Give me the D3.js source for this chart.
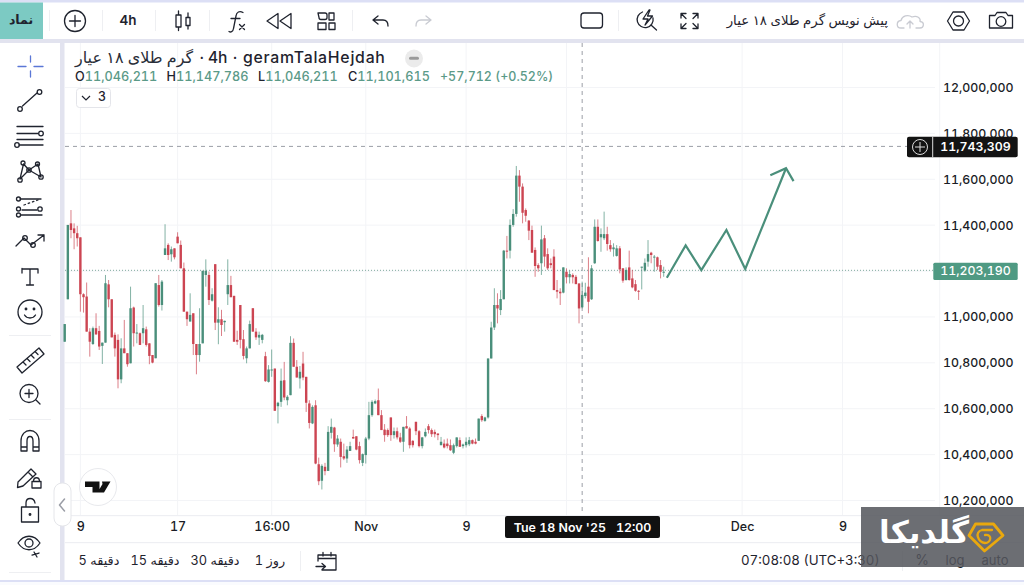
<!DOCTYPE html>
<html><head><meta charset="utf-8">
<style>html,body{margin:0;padding:0;background:#fff;overflow:hidden}svg{display:block}
text{font-family:Inter,"DejaVu Sans",sans-serif;font-variant-numeric:tabular-nums;font-feature-settings:"tnum" 1}</style>
<script src="https://cdn.jsdelivr.net/npm/d3@7"></script></head><body>
<svg id="c" width="1024" height="585"></svg>
<script>
// Prices in thousands
const opens=[10892,11077,11408,11386,11365,11347,11099,11089,10936,10882,10951,10939,10874,10888,11142,11077,
10922,10900,10728,10863,10842,10798,11041,10929,10929,10929,10946,10885,10834,10820,11139,11052,
11270,11314,11273,11299,11350,11314,11212,11023,10980,11016,10882,10834,10885,11183,11183,11071,
11230,10975,10990,10977,11099,11139,11092,10900,11052,10903,10820,10863,11038,10936,10910,10900,
10829,10717,10768,10775,10611,10630,10724,10637,10659,10887,10783,10732,10797,10739,10623,10536,
10615,10358,10286,10347,10329,10495,10518,10444,10456,10393,10383,10416,10477,10480,10437,10364,
10398,10470,10572,10623,10637,10572,10509,10507,10562,10485,10502,10475,10456,10524,10514,10460,
10543,10502,10437,10480,10524,10507,10499,10492,10441,10448,10448,10441,10408,10437,10463,10437,
10441,10445,10463,10456,10460,10568,10547,10562,10819,10954,11052,11030,11077,11289,11289,11401,
11449,11616,11568,11466,11420,11379,11292,11226,11234,11343,11274,11234,11263,11117,11110,11106,
11197,11173,11183,11175,11146,11042,11091,11132,11077,11234,11393,11347,11343,11361,11313,11295,
11266,11299,11212,11161,11216,11168,11143,11114,11216,11202,11241,11280,11260,11260,11226,11193];
const highs=[10969,11401,11466,11408,11397,11347,11103,11150,10951,10958,11016,10961,10888,11183,11161,11077,
10932,10924,10907,10987,10842,11132,11045,10969,10932,11052,10958,10885,10834,11147,11183,11161,
11404,11321,11307,11299,11369,11333,11237,11023,11103,11016,10882,11038,11201,11251,11198,11125,
11230,11042,11031,10984,11251,11179,11092,10940,11052,10943,10871,10984,11038,10951,10936,10926,
10848,10790,10858,10775,10630,10775,10804,10659,10916,10906,10812,10786,10848,10739,10637,10615,
10637,10387,10358,10364,10524,10557,10521,10485,10470,10448,10437,10456,10509,10480,10456,10405,
10477,10630,10637,10640,10688,10594,10533,10514,10562,10518,10518,10495,10521,10568,10521,10463,
10543,10507,10477,10514,10533,10514,10509,10492,10477,10466,10470,10466,10448,10475,10475,10448,
10475,10477,10466,10470,10557,10576,10565,10819,10979,11125,11103,11117,11292,11353,11425,11470,
11658,11640,11582,11473,11422,11398,11303,11234,11398,11357,11299,11255,11295,11161,11125,11216,
11212,11202,11190,11183,11146,11154,11149,11260,11226,11425,11425,11386,11459,11393,11335,11321,
11313,11309,11212,11216,11289,11205,11161,11117,11219,11255,11335,11284,11270,11263,11248,11219];
const lows=[10892,11077,11343,11295,11307,11023,11019,10936,10827,10878,10922,10856,10795,10888,11042,10911,
10827,10689,10711,10842,10783,10798,10871,10885,10878,10885,10871,10794,10798,10820,11045,11028,
11270,11248,11241,11251,11321,11212,11023,10961,10980,10834,10750,10805,10885,11132,11052,11067,
10943,10881,10917,10936,11052,11086,10892,10878,10863,10815,10798,10863,10936,10900,10878,10885,
10717,10714,10739,10591,10536,10608,10637,10615,10659,10783,10736,10688,10724,10586,10514,10533,
10358,10267,10248,10310,10329,10470,10412,10434,10344,10376,10364,10416,10470,10419,10361,10350,
10361,10463,10565,10620,10572,10507,10456,10477,10460,10470,10466,10451,10412,10514,10427,10431,
10485,10431,10427,10475,10492,10477,10475,10463,10441,10427,10427,10416,10402,10431,10434,10427,
10431,10437,10445,10445,10460,10543,10543,10557,10819,10943,10972,11008,11077,11255,11255,11393,
11437,11502,11408,11415,11335,11280,11175,11197,11183,11219,11205,11212,11117,11081,11052,11103,
11146,11146,11146,11143,10972,11037,11081,11016,11074,11231,11328,11284,11335,11289,11284,11263,
11263,11190,11149,11158,11158,11125,11110,11074,11120,11197,11219,11234,11197,11205,11168,11175];
const closes=[10969,11401,11379,11365,11343,11099,11086,10936,10892,10951,10924,10871,10888,11147,11077,10911,
10863,10728,10863,10842,10794,11038,10929,10932,10878,10951,10878,10830,10801,11147,11052,11154,
11299,11270,11295,11260,11321,11212,11023,10990,11009,10882,10834,10882,11201,11201,11074,11099,
10975,10990,10965,10983,11139,11086,10892,10892,10900,10830,10863,10969,10936,10911,10922,10922,
10720,10771,10771,10591,10626,10722,10649,10652,10887,10783,10736,10761,10736,10626,10538,10608,
10361,10284,10351,10328,10499,10521,10445,10470,10390,10383,10422,10437,10470,10422,10376,10402,
10470,10572,10630,10633,10572,10507,10485,10485,10485,10502,10475,10456,10521,10514,10441,10441,
10502,10437,10475,10499,10507,10489,10489,10485,10456,10431,10437,10419,10441,10475,10434,10444,
10456,10463,10448,10448,10557,10550,10562,10819,10954,11052,11037,11078,11289,11286,11401,11449,
11616,11568,11454,11441,11376,11280,11222,11212,11338,11263,11212,11226,11117,11110,11103,11216,
11173,11187,11173,11143,11037,11096,11106,11066,11212,11393,11331,11361,11361,11318,11295,11303,
11299,11207,11158,11205,11161,11129,11114,11110,11219,11236,11274,11270,11263,11219,11197,11197];
const priceTicks=[10200,10400,10600,10800,11000,11200,11400,11600,11800,12000];
const hiddenPriceLabels=[11200];
const timeTickIdx=[5,36,66,96,128,160,216,248,279];
const timeTickLabels=["9","17","16:00","Nov","9","","Dec","9",""];
const drawingIdx=[192,198,203,211,217,230];
const drawingPrice=[11171,11312,11204,11379,11209,11648];
const headIdx=[225,230,232.4];
const headPrice=[11618,11648,11592];
const lastPrice=11203.19, crossPrice=11743.309, crossIdx=165;
const sym="گرم طلای ۱۸ عیار";
const symInfo=["·","4h","·","geramTalaHejdah"];
const legendParts=[["O","11,046,211"],["H","11,147,786"],["L","11,046,211"],["C","11,101,615"]];
const legendChange="+57,712 (+0.52%)";
const intervals=["5 دقیقه","15 دقیقه","30 دقیقه","1 روز"];

const UP="#4a8f7b",DN="#cc4552",INK="#1f232e",GRID="#f3f4f7",FRAME="#e2e3ef";
const svg=d3.select("#c");
const x=d3.scaleLinear().domain([0,191]).range([64.7,663.7]);
const y=d3.scaleLinear().domain([10200,12000]).range([500.5,87.5]);
const bg=svg.append("g");
const R=(g,a,b,w,h,f,o={})=>g.append("rect").attr("x",a).attr("y",b).attr("width",w).attr("height",h).attr("fill",f).attr("rx",o.r||0).attr("stroke",o.s||"none");
R(bg,0,0,1024,585,"#fff");
R(bg,0,0,1024,2.5,"#dcdff5");
R(bg,0,39,1024,4,FRAME);
R(bg,60,43,4.5,537,FRAME);
R(bg,0,580,1024,2,"#dcdff5");
R(bg,0,582,1024,3,"#fafbfe");

// grid
const grid=svg.append("g");
grid.selectAll("line.h").data(priceTicks).join("line").attr("class","h")
 .attr("x1",65).attr("x2",935).attr("y1",d=>y(d)).attr("y2",d=>y(d)).attr("stroke",GRID);
grid.selectAll("line.v").data(timeTickIdx).join("line").attr("class","v")
 .attr("x1",d=>x(d)).attr("x2",d=>x(d)).attr("y1",43).attr("y2",515).attr("stroke",GRID);

// axes
const pa=d3.axisRight(y).tickValues(priceTicks).tickSize(0).tickPadding(0).tickFormat(d=>hiddenPriceLabels.includes(d)?"":d3.format(",")(d*1000));
const pg=svg.append("g").attr("transform","translate(943,0)").call(pa);
pg.select(".domain").remove();
pg.selectAll("text").attr("font-size",12.3).attr("font-weight",500).attr("fill","#1a1d26").style("font-family","Inter");
const ta=d3.axisBottom(x).tickValues(timeTickIdx).tickSize(0).tickPadding(0).tickFormat((d,i)=>timeTickLabels[i]);
const tg=svg.append("g").attr("transform","translate(0,522)").call(ta);
tg.select(".domain").remove();
tg.selectAll("text").attr("font-size",12.5).attr("font-weight",500).attr("fill","#1a1d26").style("font-family","Inter");
R(bg,65,542,960,1.2,"#eeeff3");R(bg,65,515,960,1.2,"#eeeff3");

// price lines
svg.append("line").attr("x1",65).attr("x2",935).attr("y1",y(lastPrice)).attr("y2",y(lastPrice)).attr("stroke","#7fa89c").attr("stroke-dasharray","1 2");
svg.append("line").attr("x1",65).attr("x2",907).attr("y1",y(crossPrice)).attr("y2",y(crossPrice)).attr("stroke","#9b9ea6").attr("stroke-dasharray","4 4");
svg.append("line").attr("x1",x(crossIdx)).attr("x2",x(crossIdx)).attr("y1",43).attr("y2",515).attr("stroke","#9b9ea6").attr("stroke-dasharray","4 4");

// candles
const idx=d3.range(opens.length);
const clr=i=>closes[i]>=opens[i]?UP:DN;
const cg=svg.append("g");
cg.selectAll("line").data(idx).join("line")
 .attr("x1",i=>x(i)).attr("x2",i=>x(i)).attr("y1",i=>y(highs[i])).attr("y2",i=>y(lows[i]))
 .attr("stroke",clr).attr("stroke-width",1).attr("opacity",.68);
cg.selectAll("rect").data(idx).join("rect")
 .attr("x",i=>x(i)-1.2).attr("width",2.4)
 .attr("y",i=>Math.min(y(opens[i]),y(closes[i])))
 .attr("height",i=>Math.max(1,Math.abs(y(opens[i])-y(closes[i]))))
 .attr("fill",clr);

// drawing
const ln=d3.line();
const trend=d3.range(drawingIdx.length).map(i=>[x(drawingIdx[i]),y(drawingPrice[i])]);
const head=d3.range(headIdx.length).map(i=>[x(headIdx[i]),y(headPrice[i])]);
svg.append("path").attr("d",ln(trend)).attr("fill","none").attr("stroke",UP).attr("stroke-width",2.2);
svg.append("path").attr("d",ln(head)).attr("fill","none").attr("stroke",UP).attr("stroke-width",2.2);

// Labels on the price axis
R(svg,907,136.7,110.7,20.6,"#131313",{r:2});
svg.append("line").attr("x1",932.7).attr("x2",932.7).attr("y1",136.7).attr("y2",157.3).attr("stroke","#ddd");
svg.append("circle").attr("cx",920).attr("cy",147).attr("r",7.5).attr("fill","none").attr("stroke","#ddd");
svg.append("path").attr("d","M915 147H925M920 142V152").attr("stroke","#ddd");
const T=(a,b,t,o={})=>svg.append("text").attr("x",a).attr("y",b).text(t).attr("font-size",o.s||13).attr("font-weight",o.w||400).attr("fill",o.f||INK).attr("text-anchor",o.a||"start").attr("dominant-baseline","middle");
T(975.5,147.5,d3.format(",")(Math.round(crossPrice*1000)),{s:12.3,w:600,f:"#fff",a:"middle"});
R(svg,933.3,262.7,84.4,17.3,"#4f9a83",{r:1.5});
T(975.5,271.7,d3.format(",")(Math.round(lastPrice*1000)),{s:12.3,w:500,f:"#fff",a:"middle"});
R(svg,505,516,155,22,"#111",{r:2});
T(582.5,529,"Tue 18 Nov '25   12:00",{s:12.4,w:600,f:"#fff",a:"middle"}).style("white-space","pre");

// legend
T(75,59,sym,{s:16,w:400,f:"#2a2e39"});
[[201.7,"middle",15],[208,"start",15.6],[235,"middle",15],[243,"start",15.8]].forEach((p,i)=>
 T(p[0],59,symInfo[i],{s:p[2],w:500,a:p[1]}).style("letter-spacing",i==3?"0.75px":"0"));
R(svg,405,49.5,18,18,"#ebebeb",{r:9});R(svg,409,56.7,10,3,"#9a9a9a",{r:1.5});
let lx=75;
legendParts.forEach((p,i)=>{
 const t=svg.append("text").attr("x",lx).attr("y",78).attr("dominant-baseline","middle").attr("font-size",12.7).attr("font-weight",500).attr("fill","#5b9a88");
 t.append("tspan").text(p[0]).attr("fill",INK);t.append("tspan").text(p[1]);
 lx+=[91.5,91.5,90][i];
});
T(440,78,legendChange,{s:12.5,w:500,f:"#5b9a88"});
R(svg,76.5,88.5,34,19,"#fff",{r:3,s:"#e4e5ea"});
T(98,98,"3",{s:12.5,w:500});
svg.append("path").attr("d","M82 96L86 100L90 96").attr("fill","none").attr("stroke",INK).attr("stroke-width",1.2);

// Top toolbar
R(svg,0,2.5,43,36.5,"#7ccac3");
T(21,20.5,"نماد",{s:12.5,w:700,a:"middle"});
const sep=[49,102,155,209,352,618];
sep.forEach(a=>R(svg,a,10,1,21,"#eeeff2"));
const I=(d,o={})=>svg.append("path").attr("d",d).attr("fill",o.fill||"none").attr("stroke",o.s||INK).attr("stroke-width",o.w||1.3).attr("stroke-linecap","round").attr("stroke-linejoin","round");
const C=(a,b,r,o={})=>svg.append("circle").attr("cx",a).attr("cy",b).attr("r",r).attr("fill",o.fill||"none").attr("stroke",o.s||INK).attr("stroke-width",o.w||1.3);
C(75,21,10.5);I("M69.5 21H80.5M75 15.5V26.5");
T(128,21,"4h",{s:13.5,w:600,a:"middle"});
I("M176 15h5v12h-5zM178.5 11v4M178.5 27v3.5M186 17.5h4v8h-4zM188 13v4.5M188 25.5v3.5");
I("M243 12.5C239.5 10.5 236.5 12 236 16L233.5 28.5C233 32 230.5 32.5 229 31.5M231 18.5H240M239.5 24.5L244.5 29.5M244.5 24.5L239.5 29.5");
I("M278 13.5V28.5L267 21ZM291 13.5V28.5L280 21Z");
I("M318 13h7a2 2 0 0 1 2 2v2.500a2 2 0 0 1-2 2h-4a2 2 0 0 1-2-2zM329 13h5v7h-5zM318 23h8v6.500h-8zM329 23h6v6.500h-6z");
I("M373 20H383C387 20 388 23 388 26M373 20L378 16M373 20L378 24");
I("M431 20H421C417 20 416 23 416 26M431 20L426 16M431 20L426 24",{s:"#c9cbd2"});
svg.append("rect").attr("x",581).attr("y",13).attr("width",21.500).attr("height",15).attr("rx",3).attr("fill","none").attr("stroke",INK).attr("stroke-width",1.3);
I("M653 18A8 8 0 1 1 642.500 12M651 25L656.500 30M649 10L643 19H648L645 25L652.500 16H647.500L650 10Z");
I("M681 18V13.500H686M681.500 14L686 18.500M693 13.500H698V18M697.500 14L693 18.500M681 24V28.500H686M681.500 28L686 23.500M693 28.500H698V24M697.500 28L693 23.500");
T(888,21,"پیش نویس گرم طلای ۱۸ عیار",{s:13.3,a:"end"});
I("M904 28H901C896 28 896 21 901 20.500C902 16 908 14 912 17C917 15 921 18 920 21.500C925 22 924 28 920 28H916M910 28V21M907 24L910 21L913 24",{s:"#c9cbd2"});
I("M953 12H964L969.500 21L964 30H953L947.500 21Z");C(958.500,21,5);
I("M989.500 15.500H995L997 12.500H1006L1008 15.500H1012.500V28H989.500Z");C(1001,21.500,4.800);

// Left toolbar
I("M18 66.500H26M34 66.500H43M30.500 56V62M30.500 71V77",{s:"#5b77d6"});
I("M22.500 106L37 93");C(20,109,2.300);C(39.500,92,2.300);
I("M17 126.500H43M17 133.500H38M17 139.500H43M19 145H43");C(41,133.500,2.300);C(17,145,2.300);
I("M23.500 164L20 179M23.500 164L29 170L38 164L41 177L29 170L20 179");C(23,163,2);C(37.500,164,2);C(29,170,2.200);C(20,180,2.200);C(41,177,2.200);
I("M20 199H41M22 210H37M21 215H42");C(18.500,199,2);C(18.500,209,2);C(40,209,2.200);C(18.500,215,2);
I("M24 205L38 200",{}).attr("stroke-dasharray","1.500 3");
I("M16 246L24 238L31 245L44 235M38 235H44V241");C(25,238,2.300);C(33,245,2.300);
I("M22 268.500V273M22 269H38V273M30 269V285M26.500 285H33.500");
C(30,312,12);C(26,309,.8);C(34,309,.8);I("M24.500 315C27 319 33 319 35.500 315");
R(svg,9,335,42,1,"#eeeff2");
I("M17 367L39 348L44 354L22 373ZM23 362L26 365M27 358.500L30 361.500M31 355L34 358M35 351.500L38 354.500");
C(29,393.500,9);I("M25 393.500H33M29 389.500V397.500M36 400L40 404");
R(svg,9,419,42,1,"#eeeff2");
I("M21 451V441C21 427 39 427 39 441V451H33V441C33 435 27 435 27 441V451ZM21 447H27M33 447H39");
I("M18 482L31 469L36 474L23 486L17.500 487.500ZM28 472L33 477");I("M32 488V481.500H41V488ZM33.500 481.500C33.500 476.500 39.500 476.500 39.500 481.500");
I("M21.500 507H38.500V522H21.500ZM26 507V503C26 497 34 497 35 503");C(30,514.500,.8);
I("M18 543C24 534 34 534 40 543C34 552 24 552 18 543Z");C(29,543,4);I("M32 555L39 553M34 552L37 557");
R(svg,9,572,42,1,"#eeeff2");
R(svg,54,483,17,43,"#fff",{r:8,s:"#e5e6ea"});
I("M64.500 499L59.500 505L64.500 511",{s:"#9a9da6",w:1.500});

// TV logo
C(98,487,18.500,{fill:"#fff",s:"#e8e9ed",w:1});
svg.append("path").attr("d","M85 481.500H99.500V492.500H92.500V487H85ZM102 481.500H110.500L104 492.500H97.500L102.500 484Z").attr("fill","#111");

// Bottom bar
const ix=[99,155,215,270];
intervals.forEach((t,i)=>T(ix[i],561.5,t,{s:12.8,a:"middle"}));
R(svg,300,551,1,20,"#eeeff2");
I("M318 561V555H336V570H322M318 558.500H336M323 552.500V556M331 552.500V556M316 566.500H325M322 563.500L325.500 566.500L322 569.500");
T(741,561.5,"07:08:08 (UTC+3:30)",{s:13.3});
R(svg,902,551,1,20,"#eeeff2");
T(922,561.5,"%",{s:14,a:"middle"});T(955,561.5,"log",{s:13,a:"middle"});T(995,561.5,"auto",{s:13,a:"middle"});

// Watermark
R(svg,861,507,163,60,"#54565c").attr("opacity",.86);
T(924,535,"گلدیکا",{s:31,w:700,f:"#fff",a:"middle"});
I("M975.500 524H993.500L1003 535.500L984.500 551L969 535.500Z",{s:"#e9a80e",w:2.800});
I("M992 530H982C974 532 978 542 985 543C991 543 993 534 985 535",{s:"#e9a80e",w:2.300});
</script></body></html>
